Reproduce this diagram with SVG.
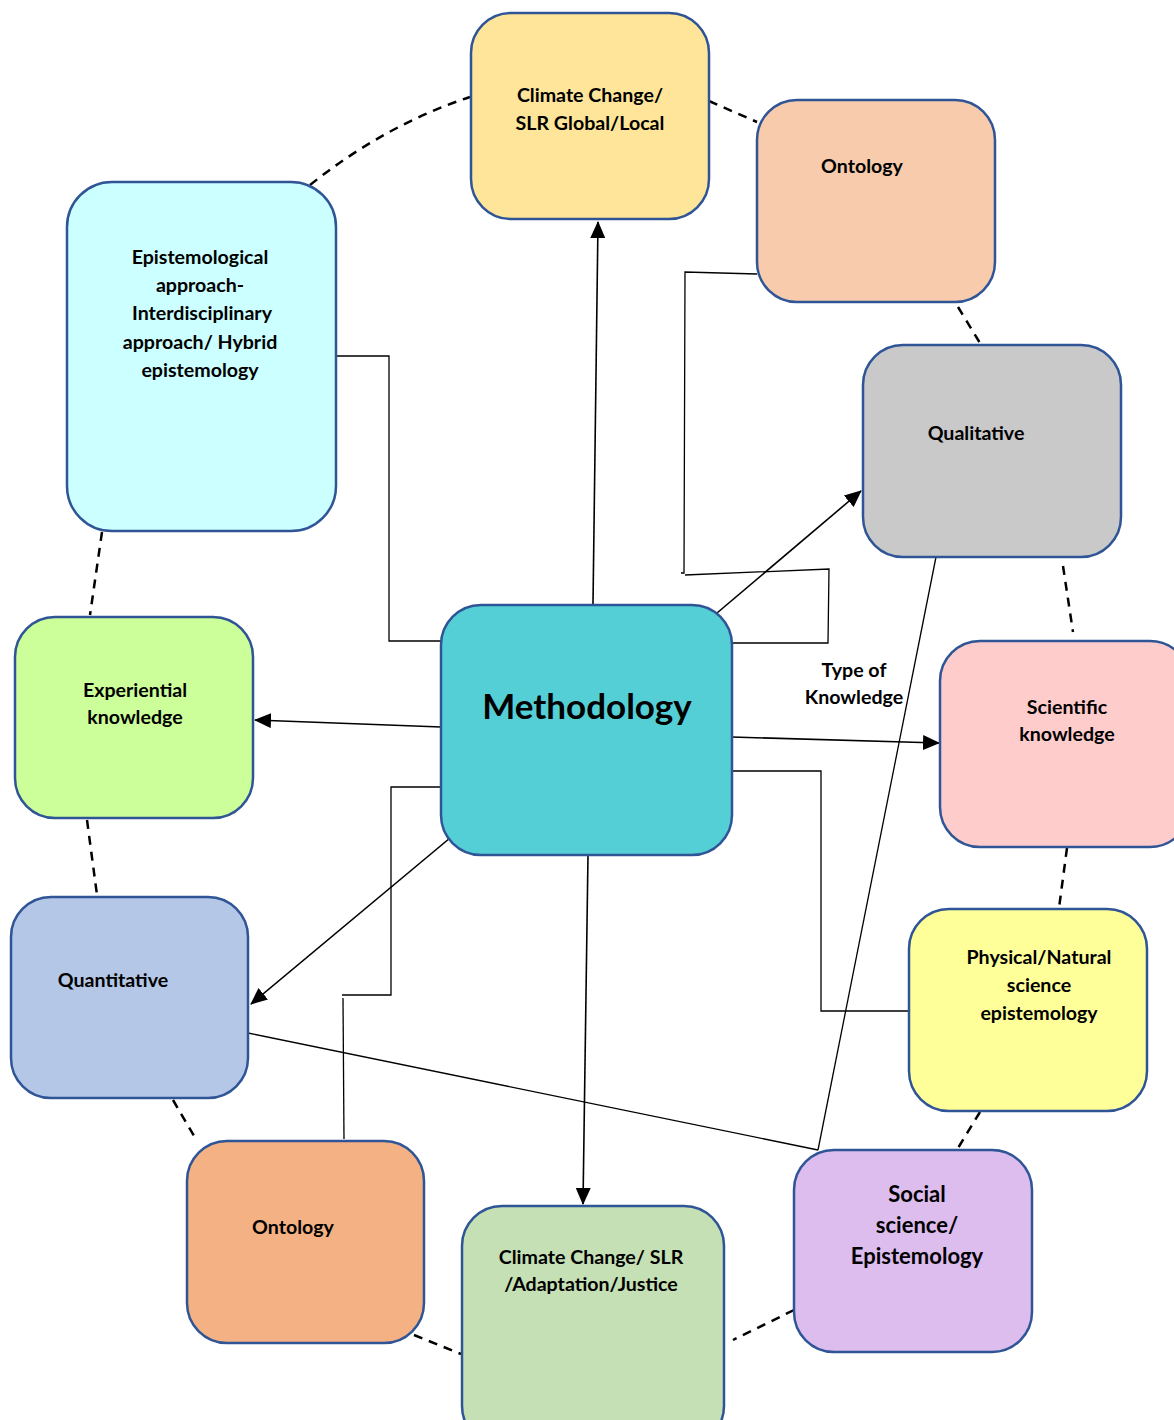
<svg xmlns="http://www.w3.org/2000/svg" width="1174" height="1420" viewBox="0 0 1174 1420">
<defs>
<marker id="arr" markerWidth="17" markerHeight="15" refX="16" refY="7.5" orient="auto" markerUnits="userSpaceOnUse">
<path d="M0,0 L17,7.5 L0,15 Z" fill="#000"/>
</marker>
<style>
.n{stroke:#2F5597;stroke-width:2.5}
.t{font-family:Lato,"Liberation Sans",sans-serif;font-weight:bold;font-size:19.6px;fill:#000;text-anchor:middle}
.ln{fill:none;stroke:#000;stroke-width:1.3}
.ar{fill:none;stroke:#000;stroke-width:1.6;marker-end:url(#arr)}
.d{fill:none;stroke:#000;stroke-width:2.5;stroke-dasharray:9 7}
</style>
</defs>
<rect width="1174" height="1420" fill="#fff"/>
<g id="dashed">
<path class="d" d="M310,185 Q385,125 470,97"/>
<path class="d" d="M709,101 L757,122"/>
<path class="d" d="M958,307 L980,343"/>
<path class="d" d="M1063,566 L1073,632"/>
<path class="d" d="M1067,848 L1059,908"/>
<path class="d" d="M980,1112 L958,1148"/>
<path class="d" d="M794,1310 L733,1340"/>
<path class="d" d="M414,1335 L461,1354"/>
<path class="d" d="M173,1100 L197,1141"/>
<path class="d" d="M87,820 L97,895"/>
<path class="d" d="M102,532 L90,615"/>
</g>
<g id="connectors">
<path class="ar" d="M593,604 L598,222"/>
<path class="ar" d="M441,727 L255,720"/>
<path class="ar" d="M732,737 L939,743"/>
<path class="ar" d="M717,613 L861,491"/>
<path class="ar" d="M450,838 L251,1004"/>
<path class="ar" d="M588,855 L583,1204"/>
<path class="ln" d="M336,356 L389,356 L389,641 L441,641"/>
<path class="ln" d="M757,274 L685,272 L684,573 L681,573"/>
<path class="ln" d="M685,575 L829,569 L828,643 L733,643"/>
<path class="ln" d="M441,787 L391,787 L391,995 L342,995"/>
<path class="ln" d="M343,998 L344,1139"/>
<path class="ln" d="M733,771 L821,771 L821,1011 L909,1011"/>
<path class="ln" d="M936,557 L818,1150"/>
<path class="ln" d="M248,1033 L818,1150"/>
</g>
<g id="n-climate-top">
<rect class="n" x="471" y="13" width="238" height="206" rx="40" fill="#FFE599"/>
<text class="t" x="590" y="102">Climate Change/</text>
<text class="t" x="590" y="130">SLR Global/Local</text>
</g>
<g id="n-ontology-top">
<rect class="n" x="757" y="100" width="238" height="202" rx="40" fill="#F8CBAD"/>
<text class="t" x="862" y="173">Ontology</text>
</g>
<g id="n-epistemological">
<rect class="n" x="67" y="182" width="269" height="349" rx="45" fill="#CCFFFF"/>
<text class="t" x="200" y="264">Epistemological</text>
<text class="t" x="200" y="292">approach-</text>
<text class="t" x="202" y="320">Interdisciplinary</text>
<text class="t" x="200" y="349">approach/ Hybrid</text>
<text class="t" x="200" y="377">epistemology</text>
</g>
<g id="n-qualitative">
<rect class="n" x="863" y="345" width="258" height="212" rx="40" fill="#C9C9C9"/>
<text class="t" x="976" y="440">Qualitative</text>
</g>
<g id="n-experiential">
<rect class="n" x="15" y="617" width="238" height="201" rx="40" fill="#CCFF99"/>
<text class="t" x="135" y="697">Experiential</text>
<text class="t" x="135" y="724">knowledge</text>
</g>
<g id="n-methodology">
<rect class="n" x="441" y="605" width="291" height="250" rx="40" fill="#55CFD6"/>
<text class="t" x="587" y="719" style="font-size:35px">Methodology</text>
</g>
<g id="n-scientific">
<rect class="n" x="940" y="641" width="250" height="206" rx="40" fill="#FFCCCC"/>
<text class="t" x="1067" y="714">Scientific</text>
<text class="t" x="1067" y="741">knowledge</text>
</g>
<g id="n-physical">
<rect class="n" x="909" y="909" width="238" height="202" rx="40" fill="#FFFF99"/>
<text class="t" x="1039" y="964">Physical/Natural</text>
<text class="t" x="1039" y="992">science</text>
<text class="t" x="1039" y="1020">epistemology</text>
</g>
<g id="n-quantitative">
<rect class="n" x="11" y="897" width="237" height="201" rx="40" fill="#B4C7E7"/>
<text class="t" x="113" y="987">Quantitative</text>
</g>
<g id="n-ontology-bottom">
<rect class="n" x="187" y="1141" width="237" height="202" rx="40" fill="#F4B183"/>
<text class="t" x="293" y="1234">Ontology</text>
</g>
<g id="n-climate-bottom">
<rect class="n" x="462" y="1206" width="262" height="240" rx="40" fill="#C5E0B4"/>
<text class="t" x="591" y="1264">Climate Change/ SLR</text>
<text class="t" x="591" y="1291">/Adaptation/Justice</text>
</g>
<g id="n-social">
<rect class="n" x="794" y="1150" width="238" height="202" rx="40" fill="#DDBCEE"/>
<text class="t" x="917" y="1202" style="font-size:22px">Social</text>
<text class="t" x="917" y="1233" style="font-size:22px">science/</text>
<text class="t" x="917" y="1264" style="font-size:22px">Epistemology</text>
</g>
<g id="label-type">
<text class="t" x="854" y="677">Type of</text>
<text class="t" x="854" y="704">Knowledge</text>
</g>
</svg>
